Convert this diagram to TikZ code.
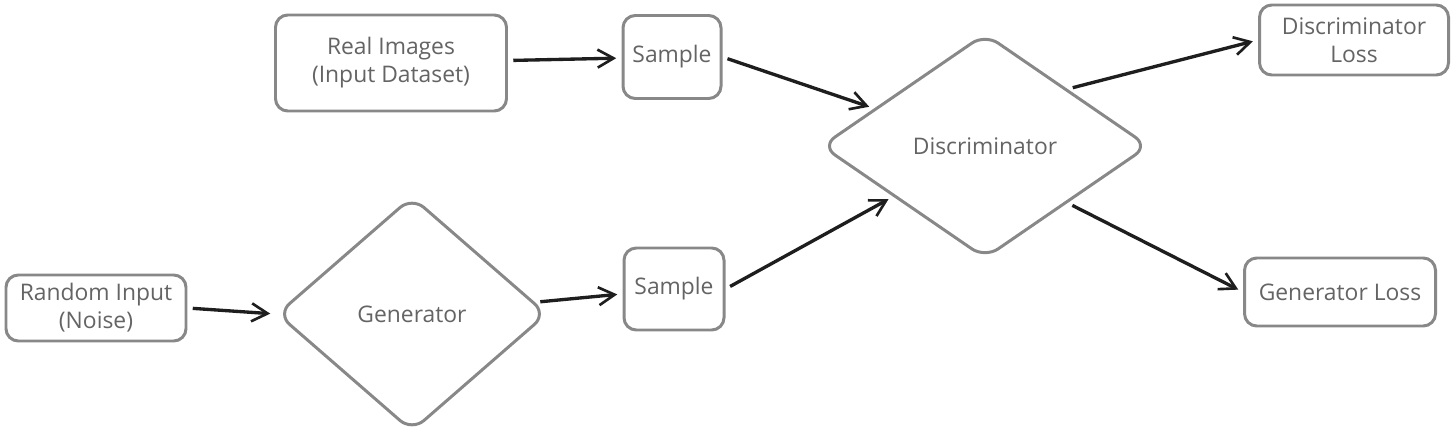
\documentclass[tikz,border=0pt]{standalone}
\usepackage{fontspec}
\setmainfont{Open Sans}
\usepackage{tikz}
\usetikzlibrary{arrows.meta,positioning,calc,shapes.geometric}
\definecolor{edgegray}{RGB}{136,136,136}
\definecolor{txtgray}{RGB}{100,100,100}
\definecolor{inkblack}{RGB}{30,30,30}
\tikzset{
  blk/.style={draw=edgegray, line width=1.7pt, rounded corners=7pt, fill=white,
              align=center, inner sep=0pt, font=\fontsize{13}{16}\selectfont, text=txtgray},
  dia/.style={diamond, draw=edgegray, line width=1.7pt, rounded corners=9pt, fill=white,
              inner sep=0pt, font=\fontsize{13}{16}\selectfont, text=txtgray},
  flowarr/.style={-{Straight Barb[length=3.2mm, width=3.6mm, line width=1.5pt]},
                  inkblack, line width=1.9pt, shorten <=3pt, shorten >=3pt},
}
\begin{document}
\begin{tikzpicture}
  \useasboundingbox (0,0) rectangle (29.12,8.82);
  % inputs
  \node[blk, minimum width=3.6cm, minimum height=1.32cm] (noise) at (1.92,2.66) {Random Input\\(Noise)};
  \node[blk, minimum width=4.62cm, minimum height=1.92cm] (real) at (7.82,7.56) {Real Images\\(Input Dataset)};
  % networks
  \node[dia, minimum width=5.4cm, minimum height=4.7cm] (gen) at (8.24,2.54) {Generator};
  \node[dia, minimum width=6.55cm, minimum height=4.5cm] (disc) at (19.7,5.9) {Discriminator};
  % samples
  \node[blk, minimum width=2.0cm, minimum height=1.64cm] (fakesmp) at (13.48,3.04) {Sample};
  \node[blk, minimum width=1.96cm, minimum height=1.66cm] (realsmp) at (13.44,7.68) {Sample};
  % losses
  \node[blk, minimum width=3.78cm, minimum height=1.4cm] (dloss) at (27.08,8.02) {Discriminator\\Loss};
  \node[blk, minimum width=3.82cm, minimum height=1.36cm] (gloss) at (26.8,2.98) {Generator Loss};

  \draw[flowarr] (noise.east) -- (gen.west);
  \draw[flowarr] (gen) -- (fakesmp);
  \draw[flowarr] (real) -- (realsmp);
  \draw[flowarr] (realsmp.east) -- (disc);
  \draw[flowarr] (fakesmp.east) -- (disc);
  \draw[flowarr] (disc.north east) -- (dloss.west);
  \draw[flowarr] (disc.south east) -- (gloss.west);
\end{tikzpicture}
\end{document}
